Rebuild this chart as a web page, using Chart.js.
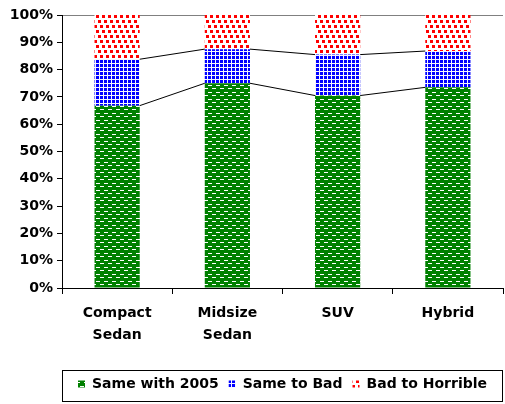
<!DOCTYPE html>
<html>
<head>
<meta charset="utf-8">
<script src="https://cdn.jsdelivr.net/npm/chart.js@4"></script>
<style>
  html, body { margin: 0; padding: 0; background: #fff; }
  #wrap { width: 505px; height: 404px; }
</style>
</head>
<body>
<div id="wrap"><canvas id="chart" width="505" height="404"></canvas></div>
<script>
// values (percent of each category)
const categories = [["Compact", "Sedan"], ["Midsize", "Sedan"], "SUV", "Hybrid"];
const sameWith2005 = [66.8, 75.0, 70.5, 73.5];
const sameToBad = [17.0, 12.5, 15.0, 13.3];
const badToHorrible = [16.2, 12.5, 14.5, 13.2];
const yTicks = [0, 10, 20, 30, 40, 50, 60, 70, 80, 90, 100];

function makePattern(w, h, bg, fg, rects) {
    const c = document.createElement('canvas');
    c.width = w; c.height = h;
    const g = c.getContext('2d');
    g.fillStyle = bg;
    g.fillRect(0, 0, w, h);
    g.fillStyle = fg;
    rects.forEach(r => g.fillRect(r[0], r[1], r[2], r[3]));
    return g.createPattern(c, 'repeat');
}

const ctx = document.getElementById('chart').getContext('2d');
const greenPat = makePattern(8, 7, '#008000', '#ffffff', [[0, 1, 4, 1], [4, 4, 4, 1]]);
const bluePat = makePattern(4, 4, '#f4f4ff', '#0000ff', [[0, 0, 3, 3]]);
const redPat = makePattern(6, 15, '#ffffff', '#ff0000', [[0, 0, 3, 3], [2, 5, 3, 3], [4, 10, 2, 3], [0, 10, 1, 3]]);

// Excel style series lines between stacked bars
const seriesLines = {
    id: 'seriesLines',
    afterDatasetsDraw(chart) {
        const c = chart.ctx;
        c.save();
        c.strokeStyle = '#000';
        c.lineWidth = 1;
        [0, 1].forEach(d => {
            const bars = chart.getDatasetMeta(d).data;
            for (let i = 0; i < bars.length - 1; i++) {
                const a = bars[i], b = bars[i + 1];
                c.beginPath();
                c.moveTo(a.x + a.width / 2, a.y);
                c.lineTo(b.x - b.width / 2, b.y);
                c.stroke();
            }
        });
        c.restore();
    }
};

const legendBorder = {
    id: 'legendBorder',
    afterDraw(chart) {
        const c = chart.ctx;
        c.save();
        c.strokeStyle = '#000';
        c.lineWidth = 1;
        c.strokeRect(62.5, 370.5, 440, 31);
        c.restore();
    }
};

const fontFamily = '"DejaVu Sans", "Liberation Sans", Arial, sans-serif';
const font = { family: fontFamily, size: 14, weight: 'bold' };

new Chart(ctx, {
    type: 'bar',
    data: {
        labels: categories,
        datasets: [
            { label: 'Same with 2005', data: sameWith2005, backgroundColor: greenPat },
            { label: 'Same to Bad', data: sameToBad, backgroundColor: bluePat },
            { label: 'Bad to Horrible', data: badToHorrible, backgroundColor: redPat }
        ]
    },
    options: {
        responsive: false,
        animation: false,
        layout: { padding: { top: 15, right: 2, left: 0, bottom: 3 } },
        datasets: { bar: { barPercentage: 0.41, categoryPercentage: 1.0 } },
        plugins: {
            legend: {
                position: 'bottom',
                fullSize: false,
                labels: {
                    color: '#000',
                    font: { family: fontFamily, size: 14, weight: 'bold' },
                    boxWidth: 7,
                    boxHeight: 7,
                    padding: 10
                }
            },
            tooltip: { enabled: false }
        },
        scales: {
            x: {
                stacked: true,
                grid: { offset: true, color: 'rgba(0,0,0,0)', tickColor: '#000', tickLength: 6 },
                border: { color: '#000' },
                ticks: { color: '#000', font: Object.assign({ lineHeight: 1.55 }, font), maxRotation: 0, padding: 9 },
                afterFit(scale) { scale.height = 79; }
            },
            y: {
                stacked: true,
                min: 0,
                max: 100,
                afterBuildTicks(scale) { scale.ticks = yTicks.map(v => ({ value: v })); },
                grid: {
                    color: c => (c.tick && c.tick.value === 100) ? '#808080' : 'rgba(0,0,0,0)',
                    tickColor: '#000',
                    tickLength: 5
                },
                border: { color: '#000' },
                ticks: { color: '#000', font: font, padding: 4, callback: v => v + '%' },
                afterFit(scale) { scale.width = 62; }
            }
        }
    },
    plugins: [seriesLines, legendBorder]
});
</script>
</body>
</html>
